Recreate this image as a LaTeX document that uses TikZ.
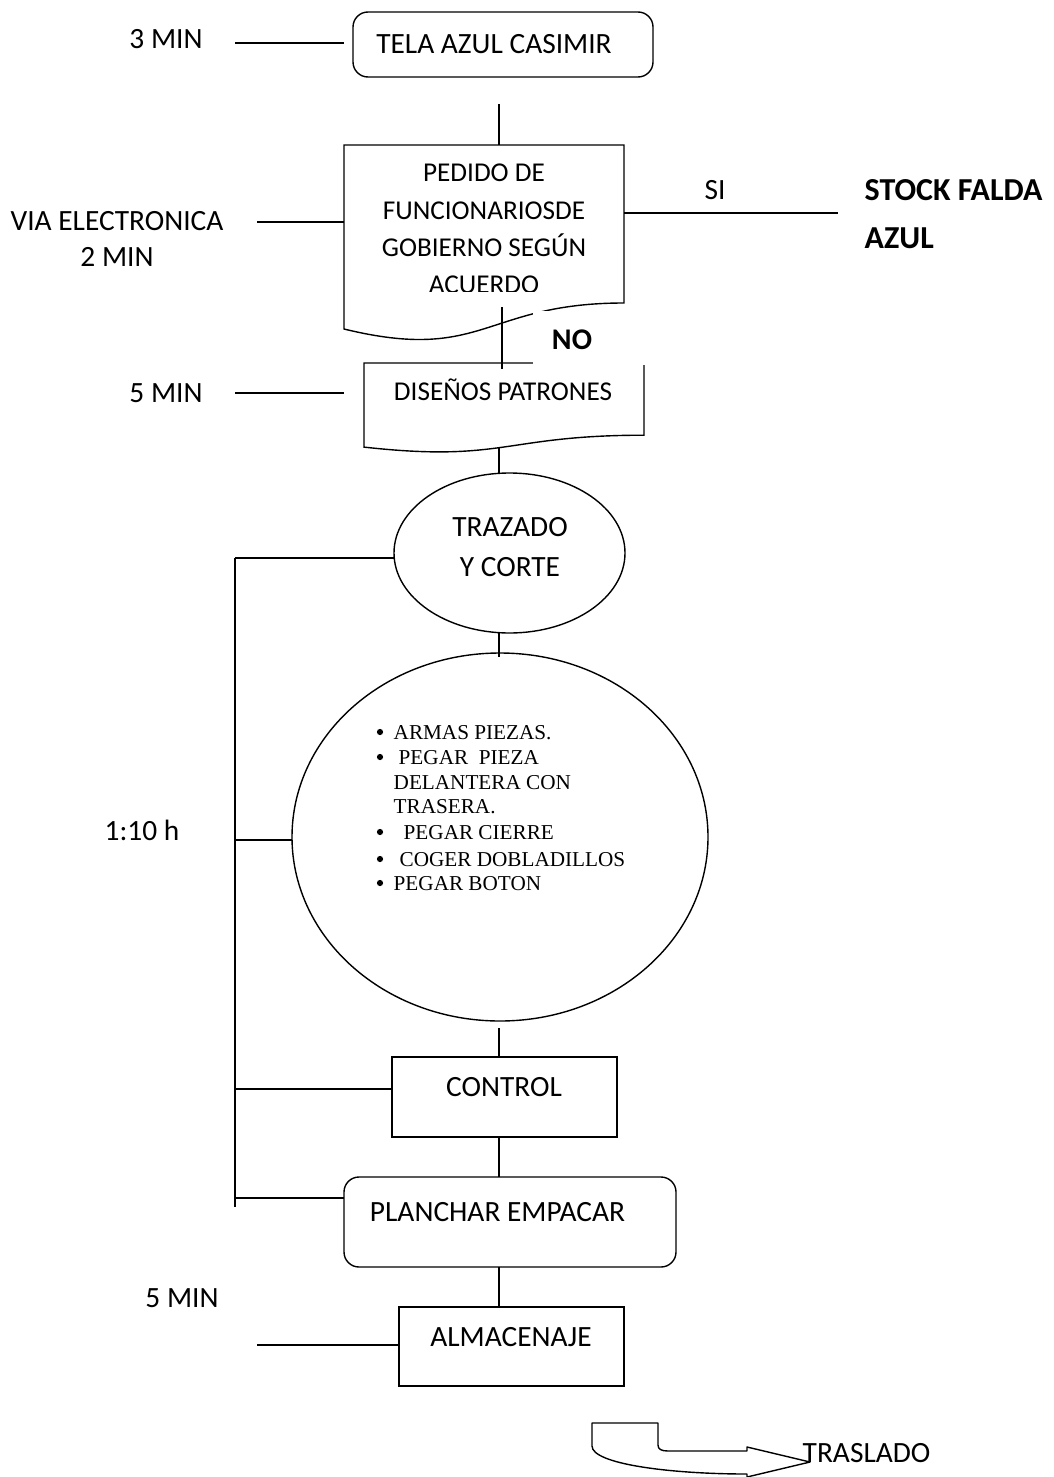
\documentclass[tikz,border=0pt]{standalone}
\usepackage{fontspec}
\setmainfont{Carlito}
\newfontfamily\serifb{Liberation Serif}
\usetikzlibrary{shapes.geometric}
\begin{document}
\begin{tikzpicture}[x=1pt,y=-1pt,line width=1.4pt,
  txt/.style={inner sep=0pt, font=\fontsize{29.4}{35}\selectfont, text height=18.9pt, text depth=0pt},
  dtxt/.style={inner sep=0pt, font=\fontsize{27.2}{33}\selectfont, text height=17.5pt, text depth=0pt},
  btxt/.style={inner sep=0pt, font=\fontsize{32}{38}\selectfont\bfseries, text height=20.6pt, text depth=0pt},
  itm/.style={inner sep=0pt, anchor=west, font=\serifb\fontsize{21.2}{25}\selectfont, text height=14pt, text depth=0pt},
  bul/.style={circle, fill=black, draw=none, inner sep=0pt, minimum size=6.2pt},
  rbox/.style={draw, rectangle, rounded corners=15pt, inner sep=0pt},
  pbox/.style={draw, rectangle, inner sep=0pt},
  oval/.style={draw, ellipse, inner sep=0pt}]
\useasboundingbox (0,0) rectangle (1054,1477);

% ---------- TELA AZUL CASIMIR
\node[rbox, minimum width=300pt, minimum height=65pt] (tela) at (503,44.5) {};
\node[txt] (telaT) at (494,44) {TELA AZUL CASIMIR};
\node[txt] (m3) at (166,39) {3 MIN};
\coordinate (m3a) at (235,43); \coordinate (m3b) at (344,43);
\draw (m3a) -- (m3b);

% ---------- PEDIDO (document)
\draw (344,145) -- (624,145) -- (624,303) .. controls (484,303) and (484,363.2) .. (344,329) -- cycle;
\coordinate (telaLow) at (499,104); \coordinate (pedTop) at (499,145);
\draw (telaLow) -- (pedTop);
\begin{scope}
\clip (344,145) rectangle (624,291.5);
\node[dtxt] (p1) at (484,173) {PEDIDO DE};
\node[dtxt] (p2) at (484,211) {FUNCIONARIOSDE};
\node[dtxt] (p3) at (484,248) {GOBIERNO SEGÚN};
\node[dtxt] (p4) at (484,285) {ACUERDO};
\end{scope}
\node[txt] (via) at (117,221) {VIA ELECTRONICA};
\node[txt] (via2) at (117,257) {2 MIN};
\coordinate (viaA) at (257,222); \coordinate (pedW) at (344,222);
\draw (viaA) -- (pedW);
\coordinate (pedE) at (624,213); \coordinate (siEnd) at (838,213);
\draw (pedE) -- (siEnd);
\node[txt] (si) at (715,190) {SI};
\node[btxt, anchor=west] (stock1) at (864,190) {STOCK FALDA};
\node[btxt, anchor=west] (stock2) at (864,238) {AZUL};

% ---------- DISEÑOS PATRONES (document)
\draw (364,363) -- (644,363) -- (644,435.2) .. controls (504,435.2) and (504,462.7) .. (364,447.1) -- cycle;
\coordinate (pedLow) at (502,307); \coordinate (disTop) at (502,369);
\draw (pedLow) -- (disTop);
\fill[white] (533,311) rectangle (645.5,364.5);
\node[btxt, font=\fontsize{30}{36}\selectfont\bfseries, text height=19.3pt] (no) at (572,340) {NO};
\node[dtxt] (dis) at (503,392) {DISEÑOS PATRONES};
\node[txt] (m5) at (166,393) {5 MIN};
\coordinate (m5a) at (235,393); \coordinate (m5b) at (344,393);
\draw (m5a) -- (m5b);

% ---------- TRAZADO Y CORTE
\node[oval, minimum width=231pt, minimum height=160pt] (trz) at (509.5,553) {};
\node[txt] (trz1) at (510,527.5) {TRAZADO};
\node[txt] (trz2) at (510,567.5) {Y CORTE};
\coordinate (disLow) at (499,447); \coordinate (trzTop) at (499,473);
\draw (disLow) -- (trzTop);

% ---------- big ellipse
\node[oval, minimum width=416pt, minimum height=368pt] (big) at (500,837) {};
\coordinate (trzLow) at (499,633); \coordinate (bigTop) at (499,657);
\draw (trzLow) -- (bigTop);
\foreach \xx/\yy/\tt in {393/732/{ARMAS PIEZAS.},398/757/{PEGAR\ \ PIEZA},393/782/{DELANTERA CON},393/806/{TRASERA.},403/832/{PEGAR CIERRE},399/859/{COGER DOBLADILLOS},393/883/{PEGAR BOTON}}{
  \node[itm] at (\xx,\yy) {\tt};
}
\foreach \yy in {732,757,832,859,883}{
  \node[bul] at (380,\yy) {};
}

% ---------- left bracket
\node[txt] (t110) at (142,831) {1:10 h};
\coordinate (brTop) at (235,558); \coordinate (brBot) at (235,1207);
\draw (brTop) -- (brBot);
\coordinate (trzW) at (394,558);
\draw (brTop) -- (trzW);
\coordinate (brMid) at (235,840); \coordinate (bigW) at (292.2,840);
\draw (brMid) -- (bigW);
\coordinate (brCtl) at (235,1089); \coordinate (ctlW) at (392,1089);
\draw (brCtl) -- (ctlW);
\coordinate (brPl) at (235,1198); \coordinate (plW) at (344,1198);
\draw (brPl) -- (plW);

% ---------- CONTROL
\node[pbox, minimum width=225pt, minimum height=80pt] (ctl) at (504.5,1097) {};
\node[txt] (ctlT) at (504,1087) {CONTROL};
\coordinate (bigLow) at (499,1028); \coordinate (ctlTop) at (499,1057);
\draw (bigLow) -- (ctlTop);

% ---------- PLANCHAR EMPACAR
\node[rbox, minimum width=332pt, minimum height=90pt] (pl) at (510,1222) {};
\node[txt] (plT) at (497.5,1212) {PLANCHAR EMPACAR};
\coordinate (ctlLow) at (499,1137); \coordinate (plTop) at (499,1177);
\draw (ctlLow) -- (plTop);

% ---------- ALMACENAJE
\node[pbox, minimum width=225pt, minimum height=79pt] (alm) at (511.5,1346.5) {};
\node[txt] (almT) at (511,1337) {ALMACENAJE};
\coordinate (plLow) at (499,1267); \coordinate (almTop) at (499,1307);
\draw (plLow) -- (almTop);
\node[txt] (m5b2) at (182,1298) {5 MIN};
\coordinate (almA) at (257,1345); \coordinate (almW) at (399,1345);
\draw (almA) -- (almW);

% ---------- TRASLADO arrow
\draw[fill=white, line join=round] (592,1423) -- (658,1423) -- (658,1445)
  .. controls (658,1449) and (661,1451) .. (668,1451) -- (747,1451) -- (747,1447)
  -- (810,1462) -- (747,1477) -- (747,1474)
  .. controls (670,1474) and (592,1464) .. (592,1446) -- cycle;
\node[txt, anchor=west] (tras) at (802,1453) {TRASLADO};
\end{tikzpicture}
\end{document}
